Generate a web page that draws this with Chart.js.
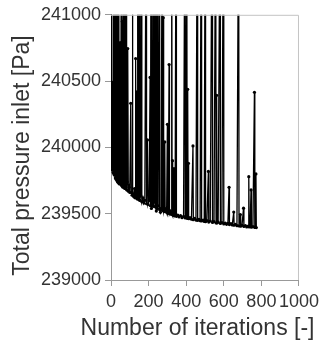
<!DOCTYPE html>
<html>
<head>
<meta charset="utf-8">
<script src="https://cdn.jsdelivr.net/npm/chart.js@4/dist/chart.umd.min.js"></script>
<style>
  html, body { margin: 0; padding: 0; background: #fff; }
  #wrap { width: 324px; height: 343px; }
</style>
</head>
<body>
<div id="wrap"><canvas id="pressureChart" width="324" height="343"></canvas></div>
<script>
// iteration number and total inlet pressure [Pa]; spikes above 241000 run off the top
const iterations = [
  0, 2, 4, 6, 9, 11, 13, 15, 17, 19, 21, 23, 25, 27, 29, 31, 33, 35, 37, 39,
  41, 43, 46, 49, 52, 55, 57, 60, 63, 66, 68, 70, 73, 76, 78, 81, 83, 86, 89, 92,
  96, 100, 105, 108, 112, 114, 116, 120, 125, 128, 131, 134, 138, 140, 141, 143, 147, 149, 152, 154,
  158, 162, 164, 170, 175, 180, 187, 189, 194, 197, 203, 208, 210, 213, 215, 218, 220, 222, 225, 227,
  231, 235, 237, 241, 245, 247, 251, 257, 259, 263, 267, 272, 274, 278, 280, 283, 286, 288, 292, 296,
  300, 302, 305, 309, 311, 316, 320, 323, 325, 327, 329, 333, 335, 337, 341, 346, 348, 355, 362, 370,
  378, 386, 393, 395, 398, 403, 405, 408, 410, 412, 414, 420, 428, 436, 438, 445, 452, 459, 461, 468,
  474, 480, 482, 490, 496, 501, 503, 510, 518, 520, 528, 538, 540, 548, 557, 559, 562, 564, 570, 580,
  582, 590, 598, 600, 608, 615, 622, 628, 630, 638, 645, 653, 655, 662, 670, 679, 681, 688, 690, 697,
  705, 707, 715, 722, 730, 733, 735, 740, 745, 747, 755, 763, 765, 768, 771, 773
];
const pressure = [
  242000, 239850, 242000, 239830, 240490, 239810, 242000, 239800, 242000, 239790,
  242000, 239770, 242000, 239760, 242000, 239750, 242000, 239740, 242000, 239735,
  242000, 239725, 239760, 240790, 239720, 242000, 239710, 240950, 239700, 242000,
  239700, 240260, 239690, 242000, 239690, 242000, 239680, 239740, 240745, 239670,
  239700, 239660, 240333, 239660, 239640, 242000, 239650, 239630, 239690, 239620,
  240670, 239620, 240418, 239610, 242000, 239615, 242000, 239605, 242000, 239600,
  239640, 242000, 239590, 239620, 239580, 239600, 242000, 239575, 240056, 239570,
  239600, 240528, 239560, 242000, 239540, 239570, 240288, 239560, 242000, 239555,
  239590, 242000, 239550, 239520, 242000, 239540, 239560, 242000, 239530, 239510,
  239540, 242000, 239525, 240978, 239520, 239540, 240041, 239515, 239530, 239510,
  240174, 239505, 239520, 240625, 239500, 239520, 239495, 242000, 239495, 239900,
  239490, 239510, 239840, 239485, 239500, 242000, 239480, 239490, 239475, 239485,
  239470, 239480, 242000, 239468, 239475, 242000, 239465, 240438, 239465, 239880,
  239462, 239470, 239458, 240011, 239455, 239465, 239452, 242000, 239450, 239458,
  239447, 242000, 239445, 239452, 239442, 242000, 239440, 239448, 239819, 239437,
  239445, 242000, 239434, 239440, 242000, 239430, 240393, 239430, 239436, 242000,
  239426, 239432, 242000, 239423, 239430, 239420, 239428, 239699, 239418, 239425,
  239415, 239512, 239413, 239420, 239410, 242000, 239408, 239494, 239406, 239412,
  239542, 239404, 239410, 239400, 239406, 239779, 239400, 239404, 239679, 239398,
  239402, 240416, 239396, 239400, 239800, 239395
];
const xTicks = [0, 200, 400, 600, 800, 1000];
const yTicks = [239000, 239500, 240000, 240500, 241000];
const xTitle = "Number of iterations [-]";
const yTitle = "Total pressure inlet [Pa]";

const textColor = "#333";
const axisColor = "#999";
const fontFamily = "'Liberation Sans', Arial, sans-serif";

// box round the plot area plus the two axis titles
const frameAndTitles = {
  id: "frameAndTitles",
  afterDatasetsDraw(chart) {
    const {ctx, chartArea} = chart;
    ctx.save();
    ctx.strokeStyle = "#c4c4c4";
    ctx.lineWidth = 1;
    ctx.beginPath();
    ctx.moveTo(chartArea.left, chartArea.top + 0.5);
    ctx.lineTo(chartArea.right - 0.5, chartArea.top + 0.5);
    ctx.lineTo(chartArea.right - 0.5, chartArea.bottom);
    ctx.stroke();
    ctx.restore();
  },
  afterDraw(chart) {
    const ctx = chart.ctx;
    ctx.save();
    ctx.fillStyle = textColor;
    ctx.font = "23px " + fontFamily;
    ctx.textAlign = "center";
    ctx.textBaseline = "alphabetic";
    ctx.fillText(xTitle, 197.5, 335);
    ctx.translate(28.5, 155.5);
    ctx.rotate(-Math.PI / 2);
    ctx.fillText(yTitle, 0, 0);
    ctx.restore();
  }
};

function drawChart() {
  const ctx = document.getElementById("pressureChart").getContext("2d");
  new Chart(ctx, {
    type: "line",
    data: {
      datasets: [{
        data: iterations.map((it, i) => ({x: it, y: pressure[i]})),
        borderColor: "#000",
        borderWidth: 1.3,
        pointRadius: 1.6,
        pointBackgroundColor: "#000",
        pointBorderWidth: 0,
        tension: 0
      }]
    },
    options: {
      responsive: false,
      animation: false,
      events: [],
      layout: {padding: {top: 13, right: 22, left: 0, bottom: 0}},
      plugins: {legend: {display: false}, tooltip: {enabled: false}},
      scales: {
        x: {
          type: "linear",
          min: 0,
          max: 1000,
          afterFit: scale => { scale.height = 63; },
          afterBuildTicks: scale => { scale.ticks = xTicks.map(v => ({value: v})); },
          grid: {drawOnChartArea: false, color: axisColor, tickLength: 6},
          border: {color: axisColor},
          ticks: {
            autoSkip: false,
            maxRotation: 0,
            padding: 5,
            color: textColor,
            font: {family: fontFamily, size: 18},
            callback: v => String(v)
          }
        },
        y: {
          type: "linear",
          min: 239000,
          max: 241000,
          afterFit: scale => { scale.width = 111; },
          afterBuildTicks: scale => { scale.ticks = yTicks.map(v => ({value: v})); },
          grid: {drawOnChartArea: false, color: axisColor, tickLength: 6},
          border: {color: axisColor},
          ticks: {
            padding: 4,
            color: textColor,
            font: {family: fontFamily, size: 18},
            callback: v => String(v)
          }
        }
      }
    },
    plugins: [frameAndTitles]
  });
}

window.onload = drawChart;
</script>
</body>
</html>
